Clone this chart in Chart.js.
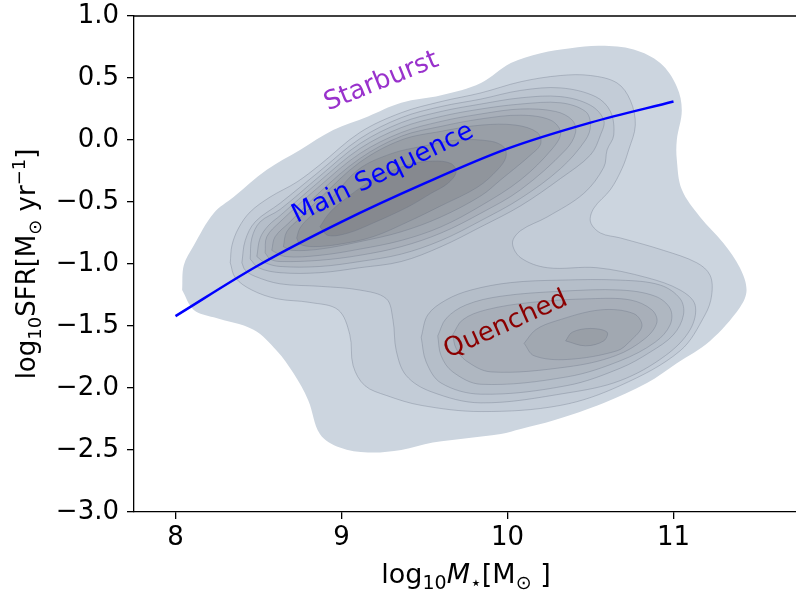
<!DOCTYPE html>
<html>
<head>
<meta charset="utf-8">
<script src="https://cdn.jsdelivr.net/npm/chart.js@4/dist/chart.umd.min.js"></script>
<style>
  html, body { margin: 0; padding: 0; background: #fff; overflow: hidden; }
  #wrap { width: 796px; height: 590px; overflow: hidden; }
</style>
</head>
<body>
<div id="wrap"><canvas id="sfrChart" width="800" height="590"></canvas></div>
<script>
// 軸の目盛り
const xTicks = [8, 9, 10, 11];
const yTicks = [1.0, 0.5, 0.0, -0.5, -1.0, -1.5, -2.0, -2.5, -3.0];

// 主系列の線 (log M*, log SFR)
const msMass = [8.0, 8.5, 9.0, 9.5, 10.0, 10.5, 11.0];
const msSfr = [-1.42, -1.01, -0.66, -0.35, -0.07, 0.14, 0.31];

// 領域ラベル
const regionNames = ['Starburst', 'Main Sequence', 'Quenched'];
const regionMass = [9.24, 9.25, 9.99];
const regionSfr = [0.47, -0.27, -1.49];

// 密度の等高線 [log M*, log SFR]  外側から内側へ
const level1 = [[8.04,-1.21],[8.05,-1.01],[8.11,-0.85],[8.23,-0.59],[8.35,-0.46],[8.55,-0.24],[8.75,-0.08],[8.95,0.08],[9.16,0.19],[9.36,0.30],[9.60,0.36],[9.84,0.46],[10.02,0.62],[10.20,0.70],[10.38,0.74],[10.56,0.76],[10.76,0.73],[10.92,0.62],[11.02,0.43],[11.05,0.24],[11.02,0.00],[11.02,-0.16],[11.05,-0.40],[11.16,-0.62],[11.30,-0.83],[11.40,-1.03],[11.44,-1.21],[11.40,-1.35],[11.22,-1.62],[11.02,-1.80],[10.84,-1.96],[10.58,-2.12],[10.28,-2.26],[10.08,-2.33],[9.96,-2.37],[9.55,-2.44],[9.36,-2.50],[9.16,-2.52],[8.99,-2.48],[8.87,-2.37],[8.80,-2.10],[8.71,-1.88],[8.61,-1.70],[8.47,-1.53],[8.23,-1.43],[8.11,-1.37]];
const level2 = [[8.33,-0.99],[8.34,-0.85],[8.38,-0.71],[8.45,-0.58],[8.57,-0.46],[8.73,-0.34],[8.87,-0.20],[9.11,0.06],[9.36,0.22],[9.60,0.31],[9.84,0.38],[10.08,0.47],[10.32,0.52],[10.50,0.52],[10.66,0.46],[10.74,0.32],[10.77,0.12],[10.73,-0.08],[10.69,-0.23],[10.62,-0.40],[10.52,-0.55],[10.50,-0.66],[10.56,-0.75],[10.68,-0.79],[10.94,-0.89],[11.14,-0.99],[11.22,-1.09],[11.23,-1.25],[11.19,-1.41],[11.04,-1.70],[10.68,-1.98],[10.32,-2.14],[9.84,-2.19],[9.48,-2.14],[9.27,-2.06],[9.14,-1.98],[9.07,-1.82],[9.05,-1.57],[8.98,-1.37],[8.81,-1.31],[8.61,-1.28],[8.46,-1.21],[8.36,-1.11]];
const level3 = [[8.40,-0.99],[8.42,-0.81],[8.48,-0.66],[8.63,-0.51],[8.87,-0.25],[9.11,0.01],[9.36,0.18],[9.60,0.27],[9.84,0.33],[10.08,0.40],[10.32,0.42],[10.53,0.35],[10.62,0.23],[10.64,0.04],[10.60,-0.08],[10.58,-0.22],[10.46,-0.43],[10.24,-0.62],[10.08,-0.73],[10.03,-0.83],[10.08,-0.95],[10.24,-1.03],[10.54,-1.03],[10.84,-1.11],[11.04,-1.21],[11.13,-1.33],[11.10,-1.53],[10.95,-1.74],[10.68,-1.94],[10.36,-2.04],[9.84,-2.12],[9.54,-2.03],[9.39,-1.90],[9.33,-1.70],[9.31,-1.45],[9.27,-1.28],[9.11,-1.21],[8.87,-1.18],[8.63,-1.16],[8.48,-1.10],[8.42,-1.05]];
const mainLevel4 = [[8.45,-0.96],[8.46,-0.79],[8.51,-0.66],[8.63,-0.56],[8.87,-0.29],[9.11,-0.03],[9.36,0.14],[9.60,0.23],[9.84,0.29],[10.08,0.34],[10.32,0.35],[10.50,0.28],[10.58,0.16],[10.56,0.04],[10.50,-0.12],[10.32,-0.31],[10.08,-0.53],[9.84,-0.70],[9.60,-0.86],[9.36,-0.98],[9.11,-1.03],[8.87,-1.07],[8.63,-1.07],[8.50,-1.03]];
const mainLevel5 = [[8.49,-0.94],[8.51,-0.79],[8.56,-0.69],[8.63,-0.61],[8.87,-0.33],[9.11,-0.07],[9.36,0.10],[9.60,0.19],[9.84,0.25],[10.08,0.29],[10.32,0.30],[10.47,0.23],[10.50,0.12],[10.47,0.00],[10.32,-0.23],[10.08,-0.47],[9.84,-0.65],[9.60,-0.81],[9.36,-0.92],[9.11,-0.98],[8.87,-1.02],[8.63,-1.02],[8.54,-0.99]];
const mainLevel6 = [[8.54,-0.91],[8.55,-0.78],[8.63,-0.66],[8.87,-0.37],[9.11,-0.11],[9.36,0.06],[9.60,0.15],[9.84,0.21],[10.08,0.25],[10.29,0.23],[10.39,0.16],[10.41,0.06],[10.35,-0.08],[10.08,-0.40],[9.84,-0.59],[9.60,-0.75],[9.36,-0.86],[9.11,-0.93],[8.87,-0.97],[8.63,-0.98],[8.57,-0.96]];
const mainLevel7 = [[8.58,-0.89],[8.60,-0.78],[8.69,-0.66],[8.87,-0.42],[9.11,-0.15],[9.36,0.03],[9.60,0.11],[9.84,0.17],[10.08,0.20],[10.26,0.16],[10.32,0.06],[10.27,-0.07],[10.08,-0.32],[9.84,-0.53],[9.60,-0.70],[9.36,-0.81],[9.11,-0.88],[8.87,-0.93],[8.66,-0.94]];
const mainLevel8 = [[8.65,-0.86],[8.67,-0.74],[8.75,-0.63],[8.87,-0.47],[9.11,-0.18],[9.36,0.00],[9.60,0.07],[9.84,0.12],[10.05,0.12],[10.18,0.06],[10.20,-0.03],[10.14,-0.12],[9.96,-0.32],[9.84,-0.45],[9.60,-0.62],[9.36,-0.74],[9.11,-0.82],[8.87,-0.88],[8.70,-0.89]];
const mainLevel9 = [[8.73,-0.79],[8.75,-0.71],[8.81,-0.62],[8.90,-0.53],[9.10,-0.24],[9.30,-0.11],[9.49,-0.05],[9.70,0.00],[9.90,-0.01],[9.98,-0.06],[9.99,-0.14],[9.94,-0.24],[9.82,-0.38],[9.60,-0.53],[9.40,-0.66],[9.19,-0.78],[8.99,-0.84],[8.83,-0.86],[8.75,-0.84]];
const mainLevel10 = [[8.87,-0.70],[8.92,-0.60],[8.99,-0.51],[9.19,-0.32],[9.40,-0.20],[9.55,-0.17],[9.66,-0.19],[9.69,-0.26],[9.64,-0.35],[9.54,-0.43],[9.40,-0.54],[9.19,-0.67],[9.04,-0.75],[8.92,-0.77]];
const quenchedLevel4 = [[9.48,-1.59],[9.52,-1.41],[9.63,-1.29],[9.78,-1.21],[10.02,-1.15],[10.32,-1.13],[10.68,-1.13],[10.92,-1.17],[11.04,-1.28],[11.06,-1.41],[11.00,-1.57],[10.86,-1.71],[10.68,-1.84],[10.36,-1.98],[9.84,-2.05],[9.60,-1.96],[9.51,-1.79]];
const quenchedLevel5 = [[9.58,-1.58],[9.63,-1.44],[9.75,-1.33],[9.96,-1.26],[10.32,-1.22],[10.68,-1.21],[10.89,-1.26],[10.98,-1.36],[10.98,-1.49],[10.89,-1.63],[10.68,-1.78],[10.36,-1.91],[9.84,-1.97],[9.67,-1.87],[9.60,-1.74]];
const quenchedLevel6 = [[9.67,-1.57],[9.73,-1.45],[9.87,-1.37],[10.14,-1.31],[10.50,-1.28],[10.74,-1.29],[10.87,-1.37],[10.90,-1.47],[10.83,-1.60],[10.65,-1.74],[10.36,-1.83],[9.90,-1.87],[9.75,-1.78],[9.69,-1.68]];
const quenchedLevel7 = [[10.10,-1.64],[10.17,-1.53],[10.29,-1.46],[10.56,-1.37],[10.76,-1.40],[10.81,-1.50],[10.74,-1.62],[10.66,-1.70],[10.36,-1.77],[10.16,-1.74]];
const quenchedLevel8 = [[10.35,-1.62],[10.39,-1.55],[10.50,-1.52],[10.60,-1.55],[10.58,-1.62],[10.47,-1.66]];

// レベルごとの塗り色
const levelColors = [
    'rgb(204,213,223)', 'rgb(195,204,215)', 'rgb(188,197,208)', 'rgb(181,190,201)', 'rgb(175,183,193)',
    'rgb(168,175,185)', 'rgb(161,168,177)', 'rgb(153,159,167)', 'rgb(144,149,156)', 'rgb(134,137,143)'
];

const contours = [
    [level1, 1], [level2, 2], [level3, 3],
    [mainLevel4, 4], [quenchedLevel4, 4],
    [mainLevel5, 5], [quenchedLevel5, 5],
    [mainLevel6, 6], [quenchedLevel6, 6],
    [mainLevel7, 7], [quenchedLevel7, 7],
    [mainLevel8, 8], [quenchedLevel8, 8],
    [mainLevel9, 9], [mainLevel10, 10]
];

const FONT = 'DejaVu Sans';

// 閉じた多角形として塗る
const datasets = contours.map(([pts, lvl]) => ({
    data: pts.concat([pts[0]]).map(([x, y]) => ({ x, y })),
    showLine: true,
    fill: 'shape',
    backgroundColor: levelColors[lvl - 1],
    borderColor: 'rgba(100,110,126,0.32)',
    borderWidth: lvl === 1 ? 0 : 1,
    tension: 0.35,
    pointRadius: 0,
    order: 20 - lvl
}));

datasets.push({
    data: msMass.map((m, i) => ({ x: m, y: msSfr[i] })),
    showLine: true,
    fill: false,
    borderColor: '#0000ff',
    borderWidth: 2.5,
    cubicInterpolationMode: 'monotone',
    pointRadius: 0,
    order: 0
});

// 上側の枠線と領域ラベル
const framePlugin = {
    id: 'frame',
    afterDatasetsDraw(chart) {
        const { ctx, chartArea, scales } = chart;
        ctx.save();
        ctx.strokeStyle = '#000';
        ctx.lineWidth = 1.3;
        ctx.beginPath();
        ctx.moveTo(chartArea.left, chartArea.top);
        ctx.lineTo(chartArea.right, chartArea.top);
        ctx.stroke();

        const colors = ['#9932cc', '#0000ff', '#8b0000'];
        const angles = [22, 26, 24];
        ctx.font = '26px "' + FONT + '"';
        ctx.textAlign = 'center';
        ctx.textBaseline = 'middle';
        regionNames.forEach((name, i) => {
            ctx.save();
            ctx.translate(scales.x.getPixelForValue(regionMass[i]), scales.y.getPixelForValue(regionSfr[i]));
            ctx.rotate(-angles[i] * Math.PI / 180);
            ctx.fillStyle = colors[i];
            ctx.fillText(name, 0, 0);
            ctx.restore();
        });
        ctx.restore();
    }
};

// 添字付きの軸タイトル
function drawRich(ctx, parts, size) {
    const fontOf = p => (p.it ? 'italic ' : '') + Math.round(size * (p.s || 1)) + 'px "' + FONT + '"';
    let total = 0;
    parts.forEach(p => { ctx.font = fontOf(p); total += ctx.measureText(p.t).width; });
    let x = -total / 2;
    parts.forEach(p => {
        ctx.font = fontOf(p);
        ctx.fillText(p.t, x, (p.dy || 0) * size);
        x += ctx.measureText(p.t).width;
    });
}

const titlePlugin = {
    id: 'axisTitles',
    afterDraw(chart) {
        const { ctx, chartArea } = chart;
        ctx.save();
        ctx.fillStyle = '#000';
        ctx.textAlign = 'left';
        ctx.textBaseline = 'alphabetic';

        ctx.save();
        ctx.translate((chartArea.left + chartArea.right) / 2, 583);
        drawRich(ctx, [
            { t: 'log' }, { t: '10', s: 0.7, dy: 0.22 },
            { t: 'M', it: true }, { t: '\u22c6', s: 0.7, dy: 0.22 },
            { t: '[M' }, { t: '\u2299', s: 0.7, dy: 0.22 }, { t: ' ]' }
        ], 27);
        ctx.restore();

        ctx.save();
        ctx.translate(35, (chartArea.top + chartArea.bottom) / 2);
        ctx.rotate(-Math.PI / 2);
        drawRich(ctx, [
            { t: 'log' }, { t: '10', s: 0.7, dy: 0.22 },
            { t: 'SFR[M' }, { t: '\u2299', s: 0.7, dy: 0.22 },
            { t: ' yr' }, { t: '\u22121', s: 0.7, dy: -0.38 }, { t: ']' }
        ], 26);
        ctx.restore();
        ctx.restore();
    }
};

const tickFont = { family: FONT, size: 26 };

// 目盛りラベルのはみ出し分を余白に足さない
const noEdgePadding = s => {
    s.paddingTop = 0;
    s.paddingBottom = 0;
    s.paddingLeft = 0;
    s.paddingRight = 0;
};

new Chart(document.getElementById('sfrChart').getContext('2d'), {
    type: 'scatter',
    data: { datasets },
    options: {
        responsive: false,
        animation: false,
        layout: { padding: { top: 16, right: 2, left: 0, bottom: 0 } },
        plugins: { legend: { display: false }, tooltip: { enabled: false } },
        scales: {
            x: {
                type: 'linear',
                min: 7.75,
                max: 11.75,
                afterBuildTicks: s => { s.ticks = xTicks.map(v => ({ value: v })); },
                afterFit: s => { s.height = 78; noEdgePadding(s); },
                grid: { drawOnChartArea: false, drawTicks: true, tickLength: 7, color: '#000', lineWidth: 1.3 },
                border: { display: true, color: '#000', width: 1.3 },
                ticks: { font: tickFont, color: '#000', padding: 4, callback: v => String(v) }
            },
            y: {
                type: 'linear',
                min: -3,
                max: 1,
                afterBuildTicks: s => { s.ticks = yTicks.map(v => ({ value: v })); },
                afterFit: s => { s.width = 134; noEdgePadding(s); },
                grid: { drawOnChartArea: false, drawTicks: true, tickLength: 7, color: '#000', lineWidth: 1.3 },
                border: { display: true, color: '#000', width: 1.3 },
                ticks: { font: tickFont, color: '#000', padding: 8, callback: v => v.toFixed(1).replace('-', '\u2212') }
            }
        }
    },
    plugins: [framePlugin, titlePlugin]
});
</script>
</body>
</html>
